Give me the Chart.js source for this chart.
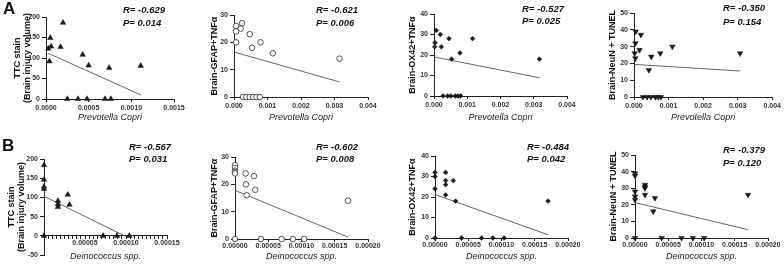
<!DOCTYPE html>
<html>
<head>
<meta charset="utf-8">
<script src="https://cdn.jsdelivr.net/npm/chart.js@4.4.1/dist/chart.umd.min.js"></script>
<style>
  html, body { margin: 0; padding: 0; background: #fff; }
  #wrap { position: relative; width: 784px; height: 266px; overflow: hidden; }
  .pane { position: absolute; }
  .tag { position: absolute; font: bold 17px "Liberation Sans", Arial, sans-serif; color: #111; }
</style>
</head>
<body>
<div id="wrap">
  <div class="pane"><canvas id="a1"></canvas></div>
  <div class="pane"><canvas id="a2"></canvas></div>
  <div class="pane"><canvas id="a3"></canvas></div>
  <div class="pane"><canvas id="a4"></canvas></div>
  <div class="pane"><canvas id="b1"></canvas></div>
  <div class="pane"><canvas id="b2"></canvas></div>
  <div class="pane"><canvas id="b3"></canvas></div>
  <div class="pane"><canvas id="b4"></canvas></div>
  <div class="tag" style="left:3px;top:-1px">A</div>
  <div class="tag" style="left:2px;top:136px">B</div>
</div>
<script>
// row A: Prevotella copri abundance
const aTtcX = [0.000027, 0.00005, 0.00006, 0.00004, 0.00017, 0.0002, 0.00043, 0.0005, 0.00074, 0.00111, 0.00025, 0.000375, 0.00048, 0.00069, 0.00076];
const aTtcY = [123, 149, 128, 92, 127, 186, 108, 82, 76, 81, 0, 0, 0, 0, 0];
const aTtcFit = [[0.00002, 112], [0.00111, 10]];

const aGfapX = [0.00006, 0.0002, 0.00024, 0.00006, 0.00006, 0.00047, 0.00054, 0.00079, 0.00116, 0.00315, 0.00027, 0.00037, 0.00047, 0.00057, 0.00067, 0.00077];
const aGfapY = [26, 25, 27, 24, 20, 23, 18, 20, 16, 14, 0, 0, 0, 0, 0, 0];
const aGfapFit = [[0.00002, 16.4], [0.00315, 5.5]];

const aOxX = [0.00007, 0.00003, 0.00002, 0.00019, 0.00022, 0.00045, 0.00053, 0.00078, 0.00116, 0.00317, 0.00027, 0.00041, 0.00051, 0.00064, 0.00072, 0.0008];
const aOxY = [32, 26, 24, 30, 24, 28, 18, 21, 28, 18, 0, 0, 0, 0, 0, 0];
const aOxFit = [[0.00002, 19], [0.00317, 8.9]];

const aNeuX = [0.00005, 0.00004, 0.00002, 0.00004, 0.0002, 0.00016, 0.00043, 0.0005, 0.00076, 0.00111, 0.00307, 0.00026, 0.00038, 0.00049, 0.00062, 0.0007, 0.00078];
const aNeuY = [39, 32, 26, 23, 37, 28, 16, 24, 26, 30, 26, 0, 0, 0, 0, 0, 0];
const aNeuFit = [[0.00002, 19.4], [0.00307, 15.5]];

// row B: Deinococcus spp. abundance
const bTtcX = [0, 0, 0, 0, 0, 0.000017, 0.000017, 0.000017, 0.000029, 0.000031, 0.000072, 0.000089, 0.000104];
const bTtcY = [184, 146, 128, 122, 0, 91, 82, 75, 107, 81, 0, 0, 0];
const bTtcFit = [[0, 103], [0.000102, -4]];

const bGfapX = [0, 0, 0, 0, 0, 0, 0.000016, 0.0000165, 0.0000175, 0.0000285, 0.0000305, 0.00017, 0.000039, 0.00007, 0.000087, 0.000104];
const bGfapY = [27, 26, 25, 24.5, 24, 0, 24, 20, 16, 23, 18, 14, 0, 0, 0, 0];
const bGfapFit = [[0, 17.8], [0.00017, 0.7]];

const bOxX = [0, 0, 0, 0, 0.000016, 0.000016, 0.000016, 0.000016, 0.0000275, 0.000031, 0.00017, 0.00004, 0.00007, 0.000087, 0.000104];
const bOxY = [32, 30, 24, 0, 32, 28, 26, 21, 28, 18, 18, 0, 0, 0, 0];
const bOxFit = [[0, 21.2], [0.00017, 1.6]];

const bNeuX = [0, 0, 0, 0, 0, 0, 0.000015, 0.000015, 0.000015, 0.000015, 0.0000275, 0.00003, 0.00017, 0.00004, 0.00007, 0.000087, 0.000104];
const bNeuY = [39, 37.5, 28, 25, 23, 0, 32, 30.7, 30, 26, 16, 24, 26, 0, 0, 0, 0];
const bNeuFit = [[0, 21.3], [0.00017, 5]];

const rTexts = ["R= -0.629", "R= -0.621", "R= -0.527", "R= -0.350", "R= -0.567", "R= -0.602", "R= -0.484", "R= -0.379"];
const pTexts = ["P= 0.014", "P= 0.006", "P= 0.025", "P= 0.154", "P= 0.031", "P= 0.008", "P= 0.042", "P= 0.120"];

const FONT = "'Liberation Sans', Arial, sans-serif";
const INK = "#1a1a1a";

const statsPlugin = {
  id: "stats",
  afterDraw(chart, args, o) {
    const ctx = chart.ctx;
    ctx.save();
    ctx.font = "italic bold 9.5px " + FONT;
    ctx.fillStyle = "#111";
    ctx.textBaseline = "middle";
    ctx.fillText(o.r, o.x, o.y1);
    ctx.fillText(o.p, o.x, o.y2);
    ctx.restore();
  },
};

function panel(id, c) {
  const el = document.getElementById(id);
  const [bx, by, w, h] = c.box;
  const [L, T, R, B] = c.plot;
  el.parentElement.style.left = bx + "px";
  el.parentElement.style.top = by + "px";
  el.width = w;
  el.height = h;

  const tick = { size: 7, weight: "bold", family: FONT, lineHeight: 1 };
  const axisGrid = { drawOnChartArea: false, drawTicks: true, tickLength: 3, color: "#222", lineWidth: 1 };

  new Chart(el, {
    type: "scatter",
    data: {
      datasets: [
        {
          data: c.fit.map((p) => ({ x: p[0], y: p[1] })),
          showLine: true,
          borderColor: "#666",
          borderWidth: 1,
          pointRadius: 0,
          clip: false,
          order: 2,
        },
        {
          data: c.x.map((x, i) => ({ x, y: c.y[i] })),
          pointStyle: c.marker,
          rotation: c.rot || 0,
          pointRadius: c.r,
          backgroundColor: c.open ? "#fff" : INK,
          borderColor: c.open ? "#444" : INK,
          borderWidth: c.open ? 0.9 : 0.5,
          clip: false,
          order: 1,
        },
      ],
    },
    options: {
      responsive: false,
      animation: false,
      layout: { padding: { left: 0, top: T, right: w - R, bottom: c.xAtZero ? h - B : 0 } },
      plugins: {
        legend: { display: false },
        tooltip: { enabled: false },
        stats: { r: c.rt, p: c.pt, x: c.st[0], y1: c.st[1], y2: c.st[2] },
      },
      scales: {
        x: {
          type: "linear",
          position: c.xAtZero ? { y: 0 } : "bottom",
          min: c.xr[0],
          max: c.xr[1],
          afterFit: (s) => { s.height = c.xAtZero ? 30 : h - B; },
          border: { color: "#222", width: 1 },
          grid: axisGrid,
          ticks: {
            stepSize: c.xr[2],
            autoSkip: false,
            maxRotation: 0,
            padding: c.xPad,
            color: "#333",
            font: tick,
            callback(v) {
              if (c.major) {
                const k = v / c.major;
                if (v <= 0 || Math.abs(k - Math.round(k)) > 1e-6) return "";
              }
              return v.toFixed(c.dec);
            },
          },
          title: {
            display: true,
            text: c.xTitle,
            color: "#222",
            font: { size: 9, style: "italic", family: FONT, lineHeight: 1.1 },
            padding: { top: 0, bottom: c.xtPad },
          },
        },
        y: {
          min: c.yr[0],
          max: c.yr[1],
          afterFit: (s) => { s.width = L; },
          border: { color: "#222", width: 1 },
          grid: Object.assign({}, axisGrid, { tickLength: 4 }),
          ticks: { stepSize: c.yr[2], padding: 2, color: "#333", font: tick },
          title: {
            display: true,
            text: c.yTitle,
            color: "#111",
            font: { size: 9, weight: "bold", family: FONT, lineHeight: 1.1 },
            padding: { top: c.ytPad, bottom: 0 },
          },
        },
      },
    },
    plugins: [statsPlugin],
  });
}

const pcTitle = "Prevotella Copri";
const dcTitle = "Deinococcus spp.";
const ttcTitle = ["TTC stain", "(Brain injury volume)"];

panel("a1", { box: [0, 0, 195, 130], plot: [46, 17, 174, 99], x: aTtcX, y: aTtcY, fit: aTtcFit,
  xr: [0, 0.0015, 0.0005], dec: 4, yr: [0, 200, 50], xTitle: pcTitle, yTitle: ttcTitle, xPad: 3, xtPad: 8, ytPad: 13,
  marker: "triangle", r: 3.2, rt: rTexts[0], pt: pTexts[0], st: [123, 10, 23] });
panel("a2", { box: [195, 0, 195, 130], plot: [39, 15, 173, 97], x: aGfapX, y: aGfapY, fit: aGfapFit,
  xr: [0, 0.004, 0.001], dec: 3, yr: [0, 30, 10], xTitle: pcTitle, yTitle: "Brain-GFAP+TNFα", xPad: 3, xtPad: 8, ytPad: 15,
  marker: "circle", r: 2.8, open: true, rt: rTexts[1], pt: pTexts[1], st: [121, 10, 23] });
panel("a3", { box: [390, 0, 195, 130], plot: [44, 14, 177, 96], x: aOxX, y: aOxY, fit: aOxFit,
  xr: [0, 0.004, 0.001], dec: 3, yr: [0, 40, 10], xTitle: pcTitle, yTitle: "Brain-OX42+TNFα", xPad: 3, xtPad: 8, ytPad: 18,
  marker: "rectRot", r: 2.4, rt: rTexts[2], pt: pTexts[2], st: [132, 9, 21] });
panel("a4", { box: [585, 0, 199, 130], plot: [49, 13, 189, 97], x: aNeuX, y: aNeuY, fit: aNeuFit,
  xr: [0, 0.004, 0.001], dec: 3, yr: [0, 50, 10], xTitle: pcTitle, yTitle: "Brain-NeuN + TUNEL", xPad: 3, xtPad: 8, ytPad: 23,
  marker: "triangle", rot: 180, r: 3.2, rt: rTexts[3], pt: pTexts[3], st: [138, 8, 22] });

panel("b1", { box: [0, 133, 195, 133], plot: [44, 26, 167, 122], x: bTtcX, y: bTtcY, fit: bTtcFit, xAtZero: true,
  xr: [0, 0.00015, 0.000005], major: 0.00005, dec: 5, yr: [-50, 200, 50], xTitle: dcTitle, yTitle: ttcTitle, xPad: 1, xtPad: 4, ytPad: 7,
  marker: "triangle", r: 3.2, rt: rTexts[4], pt: pTexts[4], st: [129, 14, 26] });
panel("b2", { box: [195, 133, 195, 133], plot: [40, 24, 173, 106], x: bGfapX, y: bGfapY, fit: bGfapFit,
  xr: [0, 0.0002, 0.00005], dec: 5, yr: [0, 30, 10], xTitle: dcTitle, yTitle: "Brain-GFAP+TNFα", xPad: 1, xtPad: 5, ytPad: 15,
  marker: "circle", r: 2.8, open: true, rt: rTexts[5], pt: pTexts[5], st: [121, 14, 26] });
panel("b3", { box: [390, 133, 195, 133], plot: [45, 23, 178, 105], x: bOxX, y: bOxY, fit: bOxFit,
  xr: [0, 0.0002, 0.00005], dec: 5, yr: [0, 40, 10], xTitle: dcTitle, yTitle: "Brain-OX42+TNFα", xPad: 1, xtPad: 5, ytPad: 18,
  marker: "rectRot", r: 2.4, rt: rTexts[6], pt: pTexts[6], st: [137, 14, 26] });
panel("b4", { box: [585, 133, 199, 133], plot: [50, 22, 183, 105], x: bNeuX, y: bNeuY, fit: bNeuFit,
  xr: [0, 0.0002, 0.00005], dec: 5, yr: [0, 50, 10], xTitle: dcTitle, yTitle: "Brain-NeuN + TUNEL", xPad: 1, xtPad: 5, ytPad: 24,
  marker: "triangle", rot: 180, r: 3.2, rt: rTexts[7], pt: pTexts[7], st: [138, 17, 30] });
</script>
</body>
</html>
